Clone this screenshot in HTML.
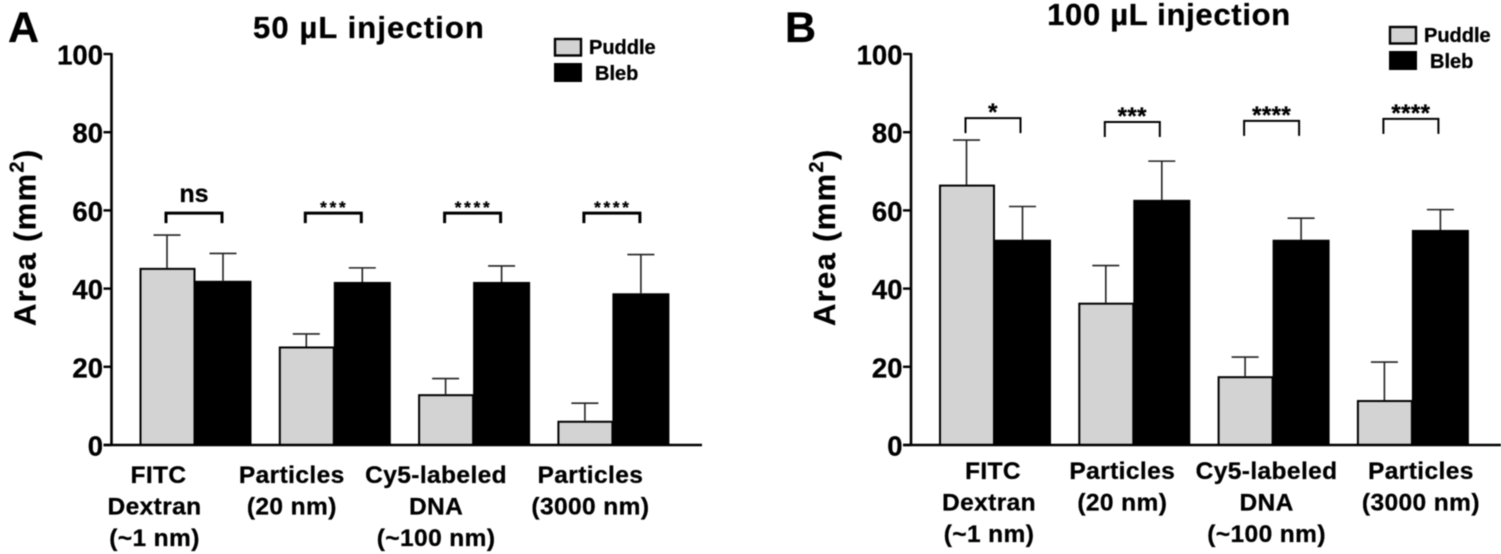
<!DOCTYPE html>
<html>
<head>
<meta charset="utf-8">
<title>Puddle vs Bleb area</title>
<style>
html,body{margin:0;padding:0;background:#fff;width:1501px;height:554px;overflow:hidden}
svg{display:block;filter:blur(0.4px)}
text{font-family:"Liberation Sans",sans-serif;font-weight:bold;fill:#000;stroke:#000;stroke-width:0.3px}
</style>
</head>
<body>
<svg id="fig" width="1501" height="554" viewBox="0 0 1501 554" xmlns="http://www.w3.org/2000/svg"></svg>
<script>
const yTicks = [0, 20, 40, 60, 80, 100];
const seriesNames = ['Puddle', 'Bleb'];
const categoriesA = [['FITC', 'Dextran', '(~1 nm)'], ['Particles', '(20 nm)'], ['Cy5-labeled', 'DNA', '(~100 nm)'], ['Particles', '(3000 nm)']];
const categoriesB = [['FITC', 'Dextran', '(~1 nm)'], ['Particles', '(20 nm)'], ['Cy5-labeled', 'DNA', '(~100 nm)'], ['Particles', '(3000 nm)']];
const puddleA = [45.3, 25.2, 13, 6.2];
const puddleErrA = [53.7, 28.4, 17, 10.7];
const blebA = [42, 41.7, 41.7, 38.8];
const blebErrA = [49, 45.3, 45.8, 48.7];
const sigA = ['ns', '***', '****', '****'];
const bracketA = [59.3, 59.3, 59.3, 59.3];
const puddleB = [66.6, 36.4, 17.6, 11.5];
const puddleErrB = [78, 45.9, 22.5, 21.2];
const blebB = [52.5, 62.7, 52.5, 55];
const blebErrB = [61, 72.6, 58, 60.2];
const sigB = ['*', '***', '****', '****'];
const bracketB = [83.6, 82.6, 82.9, 83.4];

const NS = 'http://www.w3.org/2000/svg';
const svg = document.getElementById('fig');
function el(parent, tag, attrs, txt) {
  const e = document.createElementNS(NS, tag);
  for (const k in attrs) e.setAttribute(k, attrs[k]);
  if (txt !== undefined) e.textContent = txt;
  parent.appendChild(e);
  return e;
}
function y(v) { return 445 - v * 3.91; }

function panel(o) {
  const g = el(svg, 'g', {});
  
  
  const x0 = o.axisX;
  const groupX = i => x0 + 28 + i * 139.3;
  const barW = 55;

  const letter = el(g, 'text', {x: o.letterX, y: 42, 'font-size': 43}, o.letter);
  
  

  const title = el(g, 'text', {x: o.titleX, y: o.titleY, 'font-size': 31, 'letter-spacing': o.titleSpace, 'text-anchor': 'middle'}, o.title);
  
  

  const yTitle = el(g, 'text', {transform: 'translate(' + (x0 - 76) + ',326) rotate(-90)', 'font-size': 31, 'letter-spacing': 1.3});
  
  
  el(yTitle, 'tspan', {}, 'Area (mm');
  el(yTitle, 'tspan', {'font-size': 20, dy: -12}, '2');
  el(yTitle, 'tspan', {dy: 12}, ')');

  o.puddle.forEach((v, i) => {
    const px = groupX(i), bx = px + barW;
    const pc = px + barW / 2, bc = bx + barW / 2 + 1;

    const e1 = el(g, 'path', {d: 'M' + (pc - 13.5) + ' ' + y(o.puddleErr[i]) + 'H' + (pc + 13.5) + 'M' + pc + ' ' + y(o.puddleErr[i]) + 'V' + y(v), stroke: '#222', 'stroke-width': 1.6, fill: 'none'});
    
    
    const e2 = el(g, 'path', {d: 'M' + (bc - 13.5) + ' ' + y(o.blebErr[i]) + 'H' + (bc + 13.5) + 'M' + bc + ' ' + y(o.blebErr[i]) + 'V' + y(o.bleb[i]), stroke: '#222', 'stroke-width': 1.6, fill: 'none'});
    
    

    const b1 = el(g, 'rect', {x: px + 1, y: y(v) + 1, width: barW - 1, height: y(0) - y(v) - 1, fill: '#d3d3d3', stroke: '#000', 'stroke-width': 2});
    
    
    const b2 = el(g, 'rect', {x: bx + 1, y: y(o.bleb[i]) + 1, width: barW, height: y(0) - y(o.bleb[i]) - 1, fill: '#000', stroke: '#000', 'stroke-width': 2});
    
    

    const by = y(o.bracket[i]);
    const bl = pc - 1;
    const br = el(g, 'path', {d: 'M' + bl + ' ' + (by + o.legH) + 'V' + by + 'H' + (bl + o.bracketSpan) + 'V' + (by + o.legH), stroke: '#000', 'stroke-width': o.bracketW, fill: 'none'});
    
    
    const isNs = o.sig[i] === 'ns';
    const st = el(g, 'text', {x: bl + o.bracketSpan / 2 + (isNs ? 0 : o.starNudge), y: by - (isNs ? 11 : o.starGap), 'font-size': isNs ? 25 : o.starSize, 'text-anchor': 'middle', 'letter-spacing': isNs ? 0 : o.starSpace}, o.sig[i]);
    
    

    const lx = px + o.labelOffset[i];
    o.cats[i].forEach((line, j) => {
      const nudge = line === 'FITC' ? 4 : 0;
      const t = el(g, 'text', {x: lx + nudge, y: o.labelY + j * 31.4, 'font-size': 24.5, 'letter-spacing': 0.4, 'text-anchor': 'middle'}, line);
      
      
    });
  });

  const yAxis = el(g, 'line', {x1: x0, x2: x0, y1: y(100) - 1, y2: y(0) + 1, stroke: '#000', 'stroke-width': 2.6});
  
  
  const xAxis = el(g, 'line', {x1: x0 - 8, x2: o.axisEnd, y1: y(0), y2: y(0), stroke: '#000', 'stroke-width': 2.6});
  
  

  yTicks.forEach(t => {
    const m = el(g, 'line', {x1: x0 - 8, x2: x0, y1: y(t), y2: y(t), stroke: '#000', 'stroke-width': 2.4});
    
    
    const l = el(g, 'text', {x: x0 - 8.5, y: y(t) + 10.5, 'font-size': 27.5, 'text-anchor': 'end'}, String(t));
    
    
  });

  const lx = o.legendX, ly = o.legendY;
  const s1 = el(g, 'rect', {x: lx + 1, y: ly + 1, width: 26, height: 16.5, fill: '#d3d3d3', stroke: '#000', 'stroke-width': 2.4});
  
  
  const s2 = el(g, 'rect', {x: lx, y: ly + 25, width: 28, height: 19, fill: '#000'});
  
  
  const t1 = el(g, 'text', {x: lx + 35, y: ly + 16, 'font-size': 20}, seriesNames[0]);
  
  
  const t2 = el(g, 'text', {x: lx + 41, y: ly + 42, 'font-size': 20}, seriesNames[1]);
  
  
}

panel({
  id: 'panel-a', letter: 'A', letterX: 8, title: '50 µL injection', titleX: 369, titleY: 38, titleSpace: 1.1,
  axisX: 111.5, axisEnd: 702, cats: categoriesA, labelY: 483,
  labelOffset: [15, 13, 18, 33],
  puddle: puddleA, puddleErr: puddleErrA, bleb: blebA, blebErr: blebErrA,
  sig: sigA, bracket: bracketA, legH: 10, bracketW: 3, bracketSpan: 56, starSize: 17, starGap: 0, starSpace: 2.8, starNudge: 1,
  legendX: 554, legendY: 38
});
panel({
  id: 'panel-b', letter: 'B', letterX: 785, title: '100 µL injection', titleX: 1169, titleY: 25, titleSpace: 0.7,
  axisX: 911, axisEnd: 1501, cats: categoriesB, labelY: 479,
  labelOffset: [50, 44, 49, 64],
  puddle: puddleB, puddleErr: puddleErrB, bleb: blebB, blebErr: blebErrB,
  sig: sigB, bracket: bracketB, legH: 15, bracketW: 2, bracketSpan: 55, starSize: 24, starGap: -2, starSpace: 0.4, starNudge: 0,
  legendX: 1389, legendY: 26
});
</script>
</body>
</html>
